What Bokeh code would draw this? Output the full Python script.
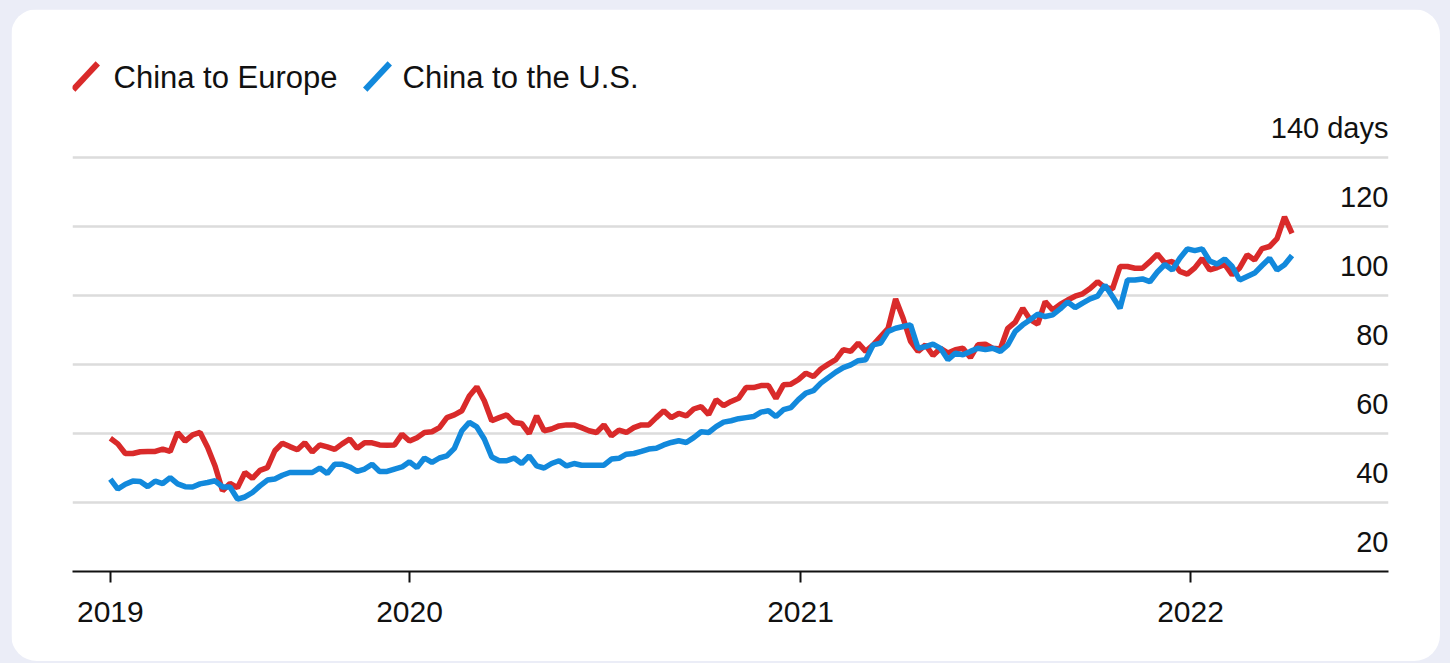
import pandas as pd
from bokeh.plotting import figure
from bokeh.models import Range1d, FixedTicker, DatetimeTickFormatter
from bokeh.core.properties import value
from bokeh.embed import file_html
from bokeh.resources import INLINE

# ---------------- data (weekly) ----------------
start_date = "2019-03-27"
series_names = ["China to Europe", "China to the U.S."]

china_to_europe = [
    58.6, 57.0, 54.2, 54.2, 54.7, 54.8, 54.8, 55.5, 54.8, 60.3,
    57.8, 59.6, 60.3, 56.0, 50.6, 43.4, 45.5, 44.3, 48.7, 47.0,
    49.3, 50.1, 55.0, 57.2, 56.2, 55.3, 57.3, 54.6, 56.7, 56.1,
    55.4, 57.0, 58.4, 55.7, 57.3, 57.3, 56.7, 56.6, 56.7, 59.8,
    57.8, 58.8, 60.3, 60.5, 61.7, 64.6, 65.4, 66.6, 70.9, 73.5,
    69.5, 63.7, 64.6, 65.4, 63.2, 62.9, 60.0, 65.1, 60.8, 61.3,
    62.2, 62.5, 62.5, 61.7, 60.8, 60.3, 62.5, 59.3, 61.0, 60.3,
    61.7, 62.5, 62.5, 64.6, 66.6, 64.6, 65.8, 65.1, 67.1, 67.8,
    65.5, 69.8, 68.1, 69.3, 70.2, 73.3, 73.3, 73.9, 73.9, 70.2,
    74.1, 74.3, 75.6, 77.5, 76.5, 78.7, 80.1, 81.4, 84.3, 83.8,
    86.2, 83.8, 85.7, 88.1, 90.5, 99.0, 93.4, 86.7, 83.8, 85.7,
    82.6, 84.7, 83.3, 84.3, 84.7, 82.0, 85.7, 85.9, 84.7, 84.5,
    90.5, 92.3, 96.3, 93.0, 91.7, 98.2, 95.8, 97.4, 98.7, 99.8,
    100.5, 102.0, 104.0, 102.3, 101.9, 108.4, 108.4, 107.9, 107.9, 109.8,
    112.0, 109.4, 109.9, 107.0, 106.2, 108.0, 110.7, 107.4, 108.1, 109.0,
    106.0, 108.0, 111.8, 110.3, 113.6, 114.2, 116.5, 122.8, 118.0,
]

china_to_us = [
    46.8, 43.9, 45.3, 46.2, 46.1, 44.6, 46.2, 45.5, 47.2, 45.4,
    44.6, 44.5, 45.4, 45.8, 46.3, 44.5, 44.5, 41.0, 41.6, 42.9,
    44.8, 46.5, 46.8, 47.9, 48.7, 48.7, 48.7, 48.7, 50.0, 48.4,
    51.1, 51.1, 50.3, 49.0, 49.7, 51.1, 49.0, 49.0, 49.7, 50.3,
    51.8, 50.1, 52.9, 51.6, 52.9, 53.5, 55.7, 60.8, 63.2, 61.9,
    58.4, 53.2, 52.1, 52.1, 52.9, 51.3, 53.5, 50.6, 50.0, 51.3,
    52.1, 50.6, 51.3, 50.8, 50.8, 50.8, 50.8, 52.6, 52.8, 54.0,
    54.2, 54.8, 55.5, 55.7, 56.7, 57.4, 57.9, 57.4, 58.8, 60.5,
    60.3, 62.0, 63.3, 63.7, 64.3, 64.6, 64.9, 66.2, 66.6, 64.9,
    66.9, 67.5, 69.8, 71.7, 72.4, 74.6, 76.2, 77.8, 79.1, 79.9,
    81.1, 81.4, 85.7, 86.2, 89.6, 90.5, 91.0, 91.5, 84.7, 85.2,
    85.9, 84.7, 81.4, 83.3, 82.8, 83.8, 84.7, 84.3, 84.7, 83.8,
    85.7, 89.6, 91.5, 93.0, 94.6, 93.9, 94.4, 96.1, 98.1, 96.5,
    97.8, 99.0, 99.8, 103.0, 99.7, 96.3, 104.5, 104.5, 104.8, 104.0,
    106.8, 109.0, 107.4, 110.8, 113.5, 113.0, 113.5, 110.0, 109.1, 110.6,
    108.4, 104.5, 105.5, 106.5, 108.7, 110.8, 107.4, 108.9, 111.6,
]

year_ticks = ["2019-03-27", "2020-01-01", "2021-01-01", "2022-01-01"]
y_ticks = [20, 40, 60, 80, 100, 120, 140]
y_labels = ["20", "40", "60", "80", "100", "120", "140 days"]

# ---------------- styles ----------------
RED = "#d92a2a"
BLUE = "#1289dc"
INK = "#111111"
FONT = "Liberation Sans"
PAGE_BG = "#ebedf7"

def ms(s):
    return pd.Timestamp(s).value / 1e6

dates = pd.date_range(start_date, periods=len(china_to_europe), freq="7D")

# layout (pixels)
W, H = 1429, 652
FL, FR, FT = 61, 52, 20
FH = 542
FB = H - FT - FH
FW = W - FL - FR
PX_PER_DAY = 1.0684
DAY = 86400000.0
ANCHOR_MS = ms("2020-01-01")
ANCHOR_PX = 337                           # frame px of 2020-01-01
x0 = ANCHOR_MS - ANCHOR_PX / PX_PER_DAY * DAY
x1 = x0 + FW / PX_PER_DAY * DAY
PX_PER_UNIT = 69 / 20
y0 = 20
y1 = y0 + FH / PX_PER_UNIT

def fx(px):      # frame px from left -> data x
    return x0 + px / PX_PER_DAY * DAY

def fy(py):      # frame px from top -> data y
    return y1 - py / PX_PER_UNIT

p = figure(width=W, height=H, x_axis_type="datetime",
           x_range=Range1d(x0, x1), y_range=Range1d(y0, y1),
           output_backend="svg", toolbar_location=None,
           y_axis_location=None,
           min_border_left=FL, min_border_right=FR,
           min_border_top=FT, min_border_bottom=FB)
p.margin = (9, 0, 0, 11)
p.styles = {"border-radius": "26px", "overflow": "hidden"}
p.outline_line_color = "white"
p.outline_line_width = 1
p.background_fill_color = "white"
p.border_fill_color = "white"

p.xgrid.visible = False
p.ygrid.ticker = FixedTicker(ticks=y_ticks[1:])
p.ygrid.grid_line_color = "#dcdcdc"
p.ygrid.grid_line_width = 2.5

ax = p.xaxis[0]
ax.ticker = FixedTicker(ticks=[ms(t) for t in year_ticks])
ax.formatter = DatetimeTickFormatter(
    microseconds="%Y", milliseconds="%Y", seconds="%Y", minsec="%Y",
    minutes="%Y", hourmin="%Y", hours="%Y", days="%Y", months="%Y", years="%Y")
ax.axis_line_color = INK
ax.axis_line_width = 2
ax.major_tick_line_color = INK
ax.major_tick_line_width = 2
ax.major_tick_out = 11
ax.major_tick_in = 0
ax.minor_tick_out = 0
ax.minor_tick_in = 0
ax.major_label_standoff = 19
ax.major_label_text_font = FONT
ax.major_label_text_font_size = "30px"
ax.major_label_text_color = INK

# data lines
p.line(dates, china_to_europe, line_color=RED, line_width=5.5)
p.line(dates, china_to_us, line_color=BLUE, line_width=5.5)

# y tick labels sitting above the gridlines, right-aligned at the frame edge
p.text(x=[x1] * len(y_ticks), y=y_ticks, text=y_labels,
       text_align="right", text_baseline="middle", y_offset=-30,
       text_font=value(FONT), text_font_size="29px", text_color=INK)

# legend: slashes + labels
p.scatter(x=[fx(13), fx(305)], y=[fy(47), fy(47)], marker="dash",
          size=36, angle=0.82, line_width=6, line_color=[RED, BLUE])
p.text(x=[fx(41), fx(330)], y=[fy(48), fy(48)], text=series_names,
       text_align="left", text_baseline="middle",
       text_font=value(FONT), text_font_size="31px", text_color=INK)

html = file_html(p, INLINE)
i = html.rfind("<body")
if i >= 0:
    j = html.find(">", i)
    html = html[:j] + f' style="background-color:{PAGE_BG};"' + html[j:]
open("out.html", "w").write(html)
